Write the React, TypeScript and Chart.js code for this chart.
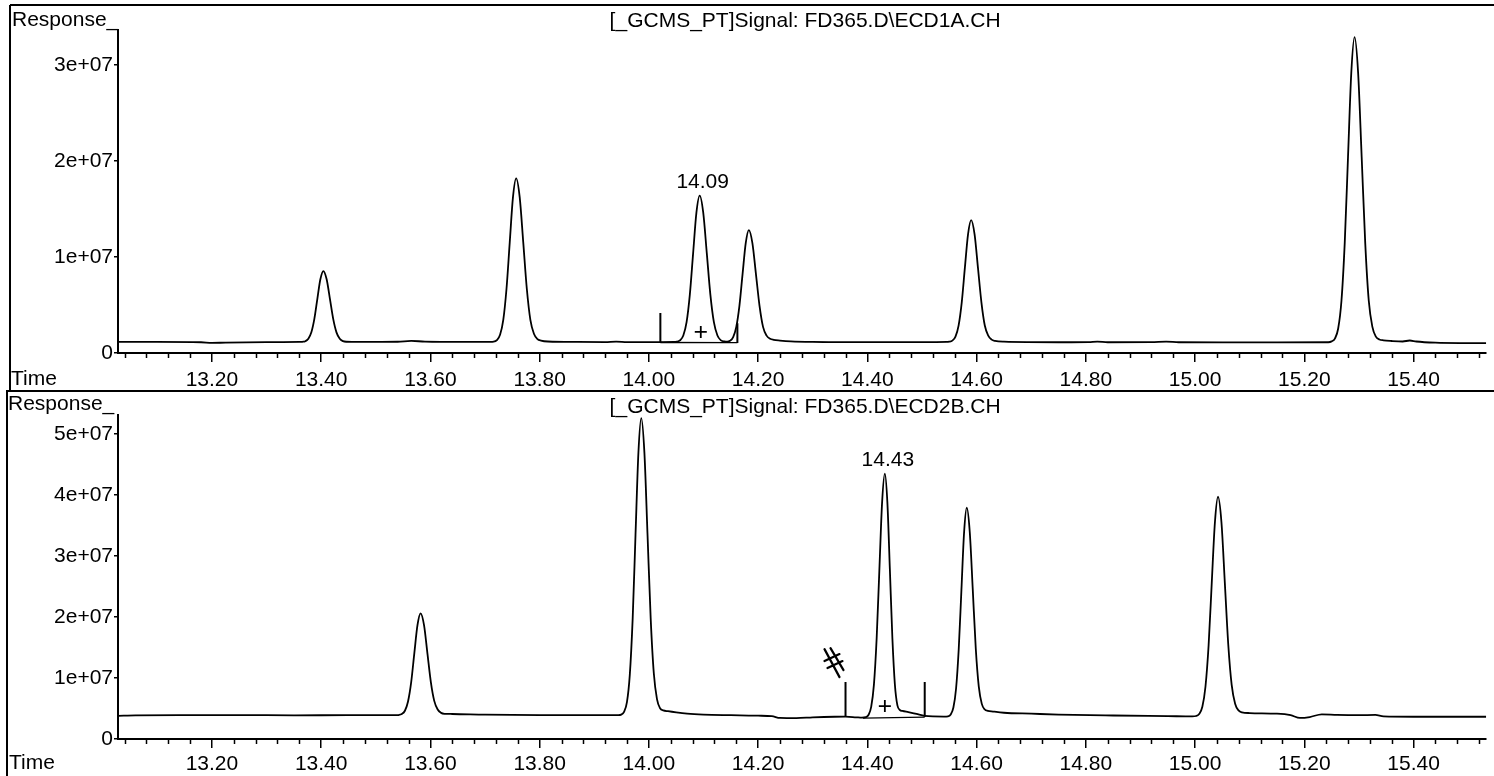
import React, { useEffect, useRef } from "react";
import { Chart, registerables } from "chart.js";

Chart.register(...registerables);

const FONT = '"Liberation Sans", Arial, Helvetica, sans-serif';
const INK = "#000";
const WIDTH = 1494;
const TOP_HEIGHT = 390;
const BOTTOM_HEIGHT = 386;
const RESP_UNIT = 1e6; // trace responses below are in millions

// ---- axes ----
const TIME_MIN = 13.028;
const TIME_MAX = 15.533;
const TIME_TICKS = [13.2, 13.4, 13.6, 13.8, 14.0, 14.2, 14.4, 14.6, 14.8, 15.0, 15.2, 15.4];
const TIME_MINOR_STEP = 0.04;

const TOP_TITLE = "[_GCMS_PT]Signal: FD365.D\\ECD1A.CH";
const BOTTOM_TITLE = "[_GCMS_PT]Signal: FD365.D\\ECD2B.CH";
const TOP_Y_MAX = 3.365e7;
const TOP_Y_TICKS = [0, 1e7, 2e7, 3e7];
const BOTTOM_Y_MAX = 5.31e7;
const BOTTOM_Y_TICKS = [0, 1e7, 2e7, 3e7, 4e7, 5e7];

// ---- ECD1A trace: [time (min), response (1e6)] ----
const ECD1A_TRACE: [number, number][] = [
  [13.028, 1.15], [13.1, 1.15], [13.18, 1.12], [13.2, 1.05], [13.225, 1.08], [13.3, 1.13], [13.36, 1.15],
  [13.3655, 1.17], [13.371, 1.23], [13.3765, 1.48], [13.382, 2.15], [13.3875, 3.55], [13.393, 5.64], [13.3985, 7.68],
  [13.404, 8.54],
  [13.41, 7.68], [13.416, 5.64], [13.422, 3.55], [13.428, 2.15], [13.434, 1.48], [13.44, 1.23], [13.446, 1.17],
  [13.47, 1.15], [13.54, 1.17], [13.565, 1.27], [13.59, 1.18], [13.66, 1.15], [13.71, 1.16],
  [13.7157, 1.18], [13.7216, 1.34], [13.7275, 1.9], [13.7334, 3.45], [13.7393, 6.69], [13.7452, 11.5], [13.7511, 16.21],
  [13.757, 18.2],
  [13.7635, 16.21], [13.77, 11.5], [13.7765, 6.69], [13.783, 3.45], [13.7895, 2.0], [13.796, 1.45], [13.8025, 1.3],
  [13.815, 1.2], [13.87, 1.15], [13.92, 1.14], [13.94, 1.19], [13.96, 1.14], [14.0, 1.13], [14.045, 1.15],
  [14.051, 1.18], [14.057, 1.32], [14.063, 1.82], [14.069, 3.21], [14.075, 6.11], [14.081, 10.41], [14.087, 14.62],
  [14.093, 16.4],
  [14.0995, 14.62], [14.106, 10.41], [14.1125, 6.11], [14.119, 3.21], [14.1255, 1.82], [14.132, 1.32], [14.1385, 1.2],
  [14.1435, 1.18],
  [14.1485, 1.28], [14.1543, 1.66], [14.16, 2.72], [14.1658, 4.94], [14.1715, 8.22], [14.1773, 11.44],
  [14.183, 12.8],
  [14.1895, 11.44], [14.196, 8.22], [14.2025, 4.94], [14.209, 2.72], [14.2155, 1.81], [14.222, 1.48], [14.2285, 1.37],
  [14.24, 1.3], [14.26, 1.22], [14.3, 1.16], [14.4, 1.13], [14.5, 1.13], [14.545, 1.15],
  [14.5498, 1.18], [14.5555, 1.29], [14.5613, 1.71], [14.567, 2.86], [14.5728, 5.28], [14.5785, 8.86], [14.5843, 12.36],
  [14.59, 13.85],
  [14.5963, 12.36], [14.6025, 8.86], [14.6088, 5.28], [14.615, 2.86], [14.6213, 1.81], [14.6275, 1.39], [14.6338, 1.26],
  [14.65, 1.18], [14.75, 1.12], [14.805, 1.13], [14.821, 1.19], [14.84, 1.12], [14.92, 1.13], [14.947, 1.18],
  [14.97, 1.12], [15.05, 1.1], [15.15, 1.1], [15.244, 1.12],
  [15.25, 1.21], [15.256, 1.5], [15.262, 2.55], [15.268, 5.44], [15.274, 11.47], [15.28, 20.42], [15.286, 29.19],
  [15.292, 32.9],
  [15.2985, 29.19], [15.305, 20.42], [15.3115, 11.47], [15.318, 5.44], [15.3245, 2.75], [15.331, 1.7], [15.3375, 1.41],
  [15.345, 1.32], [15.36, 1.25], [15.38, 1.2], [15.393, 1.3], [15.405, 1.2], [15.44, 1.08], [15.5, 1.03], [15.533, 1.02],
];

// ---- ECD2B trace: [time (min), response (1e6)] ----
const ECD2B_TRACE: [number, number][] = [
  [13.028, 3.8], [13.06, 3.88], [13.15, 3.9], [13.25, 3.92], [13.35, 3.88], [13.45, 3.9], [13.535, 3.9],
  [13.5418, 3.93], [13.5475, 4.08], [13.5533, 4.63], [13.559, 6.15], [13.5648, 9.33], [13.5705, 14.04], [13.5763, 18.65],
  [13.582, 20.6],
  [13.5883, 18.65], [13.5945, 14.04], [13.6008, 9.33], [13.607, 6.25], [13.6133, 4.83], [13.6195, 4.28], [13.6258, 4.13],
  [13.64, 4.1], [13.7, 3.98], [13.8, 3.9], [13.9, 3.9], [13.944, 3.92],
  [13.9493, 4.0], [13.9545, 4.44], [13.9598, 6.04], [13.965, 10.47], [13.9703, 19.73], [13.9755, 33.46], [13.9808, 46.9],
  [13.986, 52.6],
  [13.9918, 46.9], [13.9975, 33.46], [14.0033, 19.73], [14.009, 10.77], [14.0148, 6.54], [14.0205, 5.04], [14.0263, 4.7],
  [14.035, 4.55], [14.05, 4.35], [14.07, 4.15], [14.1, 4.0], [14.15, 3.9], [14.2, 3.82], [14.225, 3.75],
  [14.24, 3.45], [14.27, 3.42], [14.3, 3.55], [14.34, 3.65], [14.36, 3.66], [14.38, 3.55], [14.39, 3.5],
  [14.397, 3.58], [14.402, 3.94], [14.407, 5.26], [14.412, 8.9], [14.417, 16.5], [14.422, 27.78], [14.427, 38.82],
  [14.432, 43.5],
  [14.4366, 38.82], [14.4412, 27.78], [14.4458, 16.5], [14.4504, 8.9], [14.455, 5.5], [14.4596, 4.75], [14.4642, 4.6],
  [14.475, 4.4], [14.49, 4.1], [14.505, 3.8], [14.52, 3.7], [14.54, 3.68],
  [14.5477, 3.72], [14.5526, 4.03], [14.5575, 5.16], [14.5624, 8.27], [14.5673, 14.78], [14.5722, 24.44], [14.5771, 33.89],
  [14.582, 37.9],
  [14.5875, 33.89], [14.593, 24.44], [14.5985, 14.78], [14.604, 8.57], [14.6095, 5.76], [14.615, 4.83], [14.6205, 4.62],
  [14.63, 4.5], [14.65, 4.3], [14.7, 4.15], [14.75, 4.0], [14.85, 3.85], [14.95, 3.75], [14.995, 3.7],
  [15.0018, 3.77], [15.0075, 4.1], [15.0133, 5.28], [15.019, 8.56], [15.0248, 15.4], [15.0305, 25.55], [15.0363, 35.49],
  [15.042, 39.7],
  [15.0483, 35.49], [15.0545, 25.55], [15.0608, 15.4], [15.067, 8.86], [15.0733, 5.78], [15.0795, 4.7], [15.0858, 4.37],
  [15.1, 4.25], [15.15, 4.15], [15.175, 3.9], [15.192, 3.45], [15.21, 3.6], [15.232, 4.05], [15.26, 3.95],
  [15.3, 3.9], [15.33, 3.95], [15.345, 3.7], [15.4, 3.65], [15.533, 3.65],
];

// integration event marks: [time, from, to] (1e6)
const ECD1A_EVENTS: [number, number, number][] = [[14.021, 1.15, 4.17], [14.162, 1.04, 3.1]];
const ECD2B_EVENTS: [number, number, number][] = [[14.36, 3.6, 9.34], [14.505, 3.6, 9.34]];
// integration baselines: [time, response] (1e6)
const ECD1A_INT_BASE: [number, number][] = [[14.021, 1.1], [14.162, 1.08]];
const ECD2B_INT_BASE: [number, number][] = [[14.392, 3.42], [14.505, 3.58]];
// "+" centroid marks: [time, response] (1e6)
const ECD1A_CROSS: [number, number] = [14.095, 2.2];
const ECD2B_CROSS: [number, number] = [14.432, 5.4];
// labelled peaks
const ECD1A_PEAK_LABEL = { time: 14.093, resp: 16.4, text: "14.09" };
const ECD2B_PEAK_LABEL = { time: 14.432, resp: 43.5, text: "14.43" };
// hand-written mark near the 14.43 peak
const ECD2B_HANDMARK = { time: 14.338, resp: 12.6 };

type PanelSpec = {
  trace: [number, number][];
  events: [number, number, number][];
  intBase: [number, number][];
  cross: [number, number];
  peakLabel: { time: number; resp: number; text: string };
  title: string;
  yMax: number;
  yTicks: number[];
  height: number;
  padTop: number;
  xLabelPad: number;
  isTop: boolean;
  handmark?: { time: number; resp: number };
};

const decorPlugin = {
  id: "panelDecor",
  afterDraw(chart: any, _args: any, opts: any) {
    const { ctx, chartArea, scales } = chart;
    const xs = scales.x;
    const ys = scales.y;
    ctx.save();
    ctx.strokeStyle = INK;
    ctx.fillStyle = INK;

    // frame
    ctx.lineWidth = 2;
    ctx.beginPath();
    if (opts.isTop) {
      ctx.moveTo(10, 5);
      ctx.lineTo(WIDTH, 5);
      ctx.moveTo(10, 5);
      ctx.lineTo(10, chart.height);
    } else {
      ctx.moveTo(7, 1);
      ctx.lineTo(WIDTH, 1);
      ctx.moveTo(7, 0);
      ctx.lineTo(7, chart.height);
    }
    ctx.stroke();

    // minor time ticks
    ctx.lineWidth = 1.5;
    ctx.beginPath();
    const n0 = Math.ceil(TIME_MIN / TIME_MINOR_STEP - 1e-9);
    const n1 = Math.floor(TIME_MAX / TIME_MINOR_STEP + 1e-9);
    for (let i = n0; i <= n1; i++) {
      if (i % 5 === 0) continue;
      const px = Math.round(xs.getPixelForValue(i * TIME_MINOR_STEP)) + 0.5;
      ctx.moveTo(px, chartArea.bottom);
      ctx.lineTo(px, chartArea.bottom + 5);
    }
    ctx.stroke();

    // texts
    ctx.font = `21px ${FONT}`;
    ctx.textBaseline = "middle";
    ctx.textAlign = "left";
    ctx.fillText("Response_", opts.isTop ? 12 : 8, opts.isTop ? 20 : 14);
    ctx.fillText("Time", opts.isTop ? 11 : 9, opts.isTop ? 379 : 373);
    ctx.textAlign = "center";
    ctx.fillText(opts.title, (chartArea.left + chartArea.right) / 2 + 3, opts.isTop ? 21 : 17);

    // peak label
    ctx.textBaseline = "bottom";
    const lp = opts.peakLabel;
    ctx.fillText(
      lp.text,
      xs.getPixelForValue(lp.time) + 3,
      ys.getPixelForValue(lp.resp * RESP_UNIT) - 3
    );

    // hand-written mark
    if (opts.handmark) {
      const hx = xs.getPixelForValue(opts.handmark.time);
      const hy = ys.getPixelForValue(opts.handmark.resp * RESP_UNIT);
      ctx.lineWidth = 2.2;
      ctx.lineCap = "round";
      ctx.beginPath();
      ctx.moveTo(hx - 9, hy - 13);
      ctx.lineTo(hx + 6, hy + 15);
      ctx.moveTo(hx - 3, hy - 14);
      ctx.lineTo(hx + 10, hy + 8);
      ctx.moveTo(hx - 9, hy - 1);
      ctx.lineTo(hx + 6, hy - 8);
      ctx.moveTo(hx - 6, hy + 6);
      ctx.lineTo(hx + 9, hy - 1);
      ctx.stroke();
    }
    ctx.restore();
  },
};

function buildConfig(p: PanelSpec): any {
  const toPts = (arr: [number, number][]) => arr.map(([t, v]) => ({ x: t, y: v * RESP_UNIT }));
  const datasets: any[] = [
    {
      data: toPts(p.trace),
      borderColor: INK,
      borderWidth: 1.8,
      pointRadius: 0,
      cubicInterpolationMode: "monotone",
      fill: false,
    },
    ...p.events.map(([t, lo, hi]) => ({
      data: [
        { x: t, y: lo * RESP_UNIT },
        { x: t, y: hi * RESP_UNIT },
      ],
      borderColor: INK,
      borderWidth: 2,
      pointRadius: 0,
      tension: 0,
      fill: false,
    })),
    {
      data: toPts(p.intBase),
      borderColor: INK,
      borderWidth: 1.4,
      pointRadius: 0,
      tension: 0,
      fill: false,
    },
    {
      data: [{ x: p.cross[0], y: p.cross[1] * RESP_UNIT }],
      showLine: false,
      pointStyle: "cross",
      pointRadius: 6,
      pointBorderWidth: 1.8,
      pointBorderColor: INK,
      borderColor: INK,
    },
  ];
  const tickFont = { family: FONT, size: 21 };
  return {
    type: "line",
    data: { datasets },
    options: {
      animation: false,
      responsive: false,
      devicePixelRatio: 1,
      layout: { padding: { top: p.padTop, right: 4, left: 0, bottom: 0 } },
      plugins: {
        legend: { display: false },
        tooltip: { enabled: false },
        panelDecor: {
          isTop: p.isTop,
          title: p.title,
          peakLabel: p.peakLabel,
          handmark: p.handmark,
        },
      },
      scales: {
        x: {
          type: "linear",
          min: TIME_MIN,
          max: TIME_MAX,
          afterBuildTicks: (ax: any) => {
            ax.ticks = TIME_TICKS.map((v) => ({ value: v }));
          },
          afterFit: (ax: any) => {
            ax.height = p.height - (p.isTop ? 353 : 349);
          },
          ticks: {
            callback: (v: any) => Number(v).toFixed(2),
            font: tickFont,
            color: INK,
            padding: p.xLabelPad,
            maxRotation: 0,
            autoSkip: false,
          },
          grid: { drawOnChartArea: false, drawTicks: true, tickLength: 9, color: INK, lineWidth: 1.5 },
          border: { display: true, color: INK, width: 2 },
        },
        y: {
          type: "linear",
          min: 0,
          max: p.yMax,
          afterBuildTicks: (ax: any) => {
            ax.ticks = p.yTicks.map((v) => ({ value: v }));
          },
          afterFit: (ax: any) => {
            ax.width = 118;
          },
          ticks: {
            callback: (v: any) => (Number(v) === 0 ? "0" : `${Math.round(Number(v) / 1e7)}e+07`),
            font: tickFont,
            color: INK,
            padding: 1,
          },
          grid: { drawOnChartArea: false, drawTicks: true, tickLength: 4, color: INK, lineWidth: 1.5 },
          border: { display: true, color: INK, width: 2 },
        },
      },
    },
    plugins: [decorPlugin],
  };
}

function Panel({ spec, top }: { spec: PanelSpec; top: number }) {
  const ref = useRef<HTMLCanvasElement | null>(null);
  useEffect(() => {
    if (!ref.current) return;
    const chart = new Chart(ref.current, buildConfig(spec));
    return () => chart.destroy();
  }, [spec]);
  return (
    <canvas
      ref={ref}
      width={WIDTH}
      height={spec.height}
      style={{ position: "absolute", left: 0, top, width: WIDTH, height: spec.height, display: "block" }}
    />
  );
}

const TOP_SPEC: PanelSpec = {
  trace: ECD1A_TRACE,
  events: ECD1A_EVENTS,
  intBase: ECD1A_INT_BASE,
  cross: ECD1A_CROSS,
  peakLabel: ECD1A_PEAK_LABEL,
  title: TOP_TITLE,
  yMax: TOP_Y_MAX,
  yTicks: TOP_Y_TICKS,
  height: TOP_HEIGHT,
  padTop: 30,
  xLabelPad: 6,
  isTop: true,
};

const BOTTOM_SPEC: PanelSpec = {
  trace: ECD2B_TRACE,
  events: ECD2B_EVENTS,
  intBase: ECD2B_INT_BASE,
  cross: ECD2B_CROSS,
  peakLabel: ECD2B_PEAK_LABEL,
  title: BOTTOM_TITLE,
  yMax: BOTTOM_Y_MAX,
  yTicks: BOTTOM_Y_TICKS,
  height: BOTTOM_HEIGHT,
  padTop: 25,
  xLabelPad: 4,
  isTop: false,
  handmark: ECD2B_HANDMARK,
};

export default function App() {
  return (
    <div
      style={{
        position: "fixed",
        left: 0,
        top: 0,
        width: WIDTH,
        height: TOP_HEIGHT + BOTTOM_HEIGHT,
        background: "#fff",
        overflow: "hidden",
      }}
    >
      <Panel spec={TOP_SPEC} top={0} />
      <Panel spec={BOTTOM_SPEC} top={TOP_HEIGHT} />
    </div>
  );
}
